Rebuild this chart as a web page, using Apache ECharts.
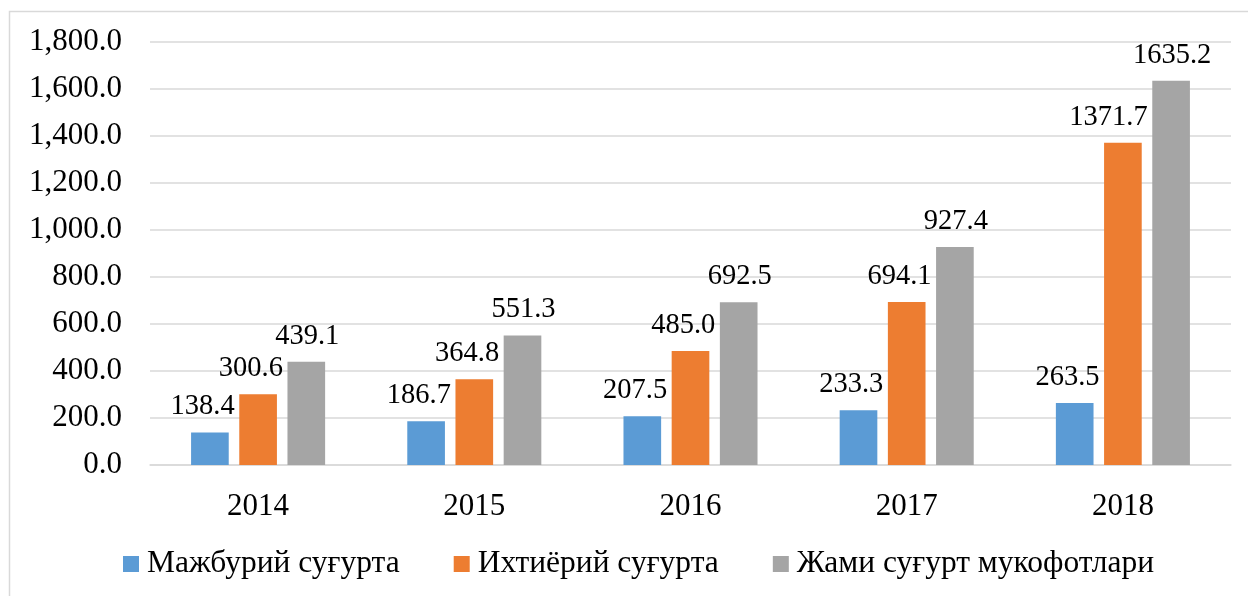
<!DOCTYPE html>
<html>
<head>
<meta charset="utf-8">
<script src="https://cdn.jsdelivr.net/npm/echarts@6/dist/echarts.min.js"></script>
<style>
html,body{margin:0;padding:0;background:#fff;}
#chart{width:1248px;height:596px;}
</style>
</head>
<body>
<div id="chart"></div>
<script>
const categories = ['2014', '2015', '2016', '2017', '2018'];
const mandatory = [138.4, 186.7, 207.5, 233.3, 263.5];
const voluntary = [300.6, 364.8, 485.0, 694.1, 1371.7];
const total = [439.1, 551.3, 692.5, 927.4, 1635.2];
const seriesNames = ['Мажбурий суғурта', 'Ихтиёрий суғурта', 'Жами суғурт мукофотлари'];
const yMin = 0, yMax = 1800, yStep = 200;

const FONT = '"Liberation Serif", "Times New Roman", serif';
const chart = echarts.init(document.getElementById('chart'), null, {renderer: 'canvas'});

const sideLabel = {
  show: true,
  position: ['100%', 0],
  align: 'right',
  verticalAlign: 'bottom',
  offset: [6, -11],
  fontFamily: FONT,
  fontSize: 28.5,
  color: '#000',
  formatter: p => p.value.toFixed(1)
};
const topLabel = {
  show: true,
  position: 'top',
  distance: 11,
  offset: [1, 0],
  fontFamily: FONT,
  fontSize: 28.5,
  color: '#000',
  formatter: p => p.value.toFixed(1)
};

chart.setOption({
  animation: false,
  backgroundColor: '#fff',
  color: ['#5B9BD5', '#ED7D31', '#A5A5A5'],
  textStyle: {fontFamily: FONT},
  graphic: [{
    type: 'rect',
    shape: {x: 9.5, y: 11.5, width: 1300, height: 700},
    style: {fill: 'none', stroke: '#D9D9D9', lineWidth: 1.5},
    silent: true
  }],
  grid: {left: 150, right: 17, top: 42, bottom: 131, containLabel: false},
  legend: {
    left: 123,
    top: 548,
    padding: 0,
    itemWidth: 16,
    itemHeight: 16,
    itemGap: 54,
    icon: 'rect',
    textStyle: {fontFamily: FONT, fontSize: 31.5, color: '#000', padding: [0, 0, 0, 3]},
    data: seriesNames
  },
  xAxis: {
    type: 'category',
    data: categories,
    axisLine: {lineStyle: {color: '#D9D9D9', width: 1.5}},
    axisTick: {show: false},
    axisLabel: {fontFamily: FONT, fontSize: 31, color: '#000', margin: 26}
  },
  yAxis: {
    type: 'value',
    min: yMin,
    max: yMax,
    interval: yStep,
    axisLine: {show: false},
    axisTick: {show: false},
    splitLine: {lineStyle: {color: '#D9D9D9', width: 1.5}},
    axisLabel: {
      fontFamily: FONT, fontSize: 31, color: '#000', margin: 28,
      formatter: v => v.toLocaleString('en-US', {minimumFractionDigits: 1, maximumFractionDigits: 1})
    }
  },
  series: [
    {name: seriesNames[0], type: 'bar', data: mandatory, barGap: '28%', barCategoryGap: '38%', label: sideLabel},
    {name: seriesNames[1], type: 'bar', data: voluntary, barGap: '28%', barCategoryGap: '38%', label: sideLabel},
    {name: seriesNames[2], type: 'bar', data: total, barGap: '28%', barCategoryGap: '38%', label: topLabel}
  ]
});
</script>
</body>
</html>
